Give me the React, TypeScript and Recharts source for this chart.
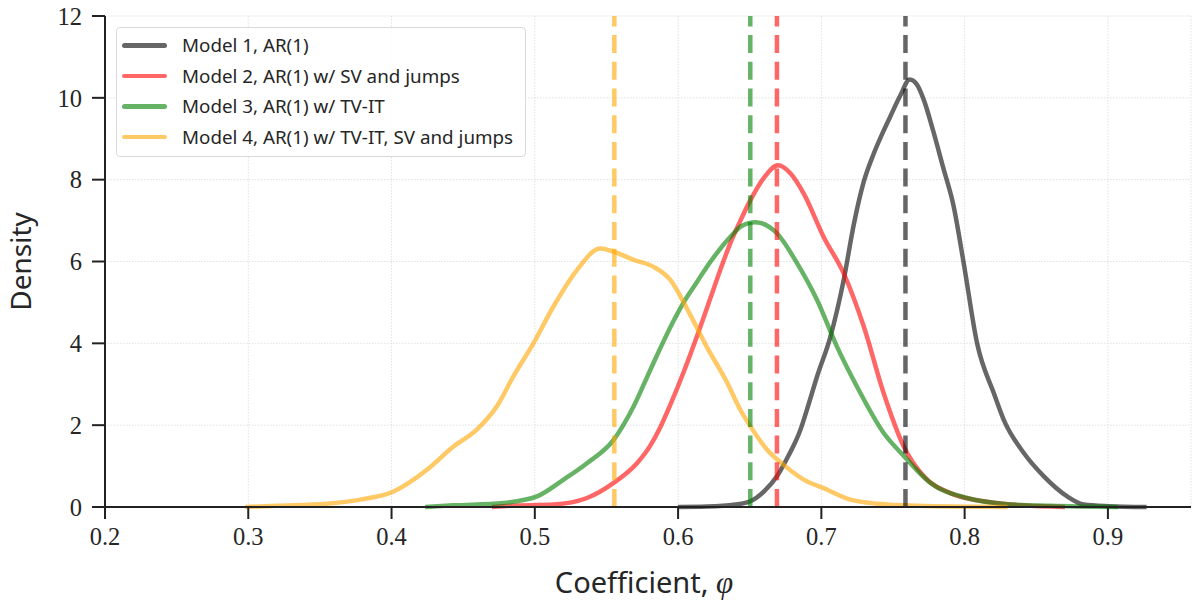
import React from "react";
import { LineChart, Line, XAxis, YAxis, CartesianGrid, ReferenceLine, Legend } from "recharts";

// Kernel density estimates (x = coefficient φ, y = density)
const model1X = [0.6, 0.62, 0.64, 0.6505, 0.66, 0.669, 0.677, 0.6854, 0.691, 0.697, 0.7063, 0.7156, 0.7226, 0.7296, 0.7366, 0.7435, 0.7482, 0.755, 0.7617, 0.7668, 0.7715, 0.778, 0.785, 0.7924, 0.7994, 0.8087, 0.8204, 0.8273, 0.8413, 0.8553, 0.8716, 0.8832, 0.9, 0.927];
const model1Y = [0, 0.01, 0.06, 0.14, 0.38, 0.75, 1.25, 1.89, 2.5, 3.19, 4.16, 5.55, 6.9, 7.95, 8.64, 9.2, 9.55, 10.05, 10.45, 10.32, 9.95, 9.2, 8.3, 7.34, 5.95, 4.0, 2.78, 2.13, 1.32, 0.75, 0.26, 0.06, 0.02, 0];

const model2X = [0.47, 0.4828, 0.513, 0.5364, 0.555, 0.5713, 0.5806, 0.5876, 0.5946, 0.6039, 0.6155, 0.6225, 0.6295, 0.6365, 0.6435, 0.6505, 0.66, 0.6697, 0.6785, 0.6877, 0.7016, 0.7156, 0.7296, 0.7435, 0.7575, 0.7715, 0.79, 0.8134, 0.84, 0.87];
const model2Y = [0, 0.03, 0.06, 0.22, 0.59, 1.07, 1.5, 1.95, 2.5, 3.3, 4.4, 5.1, 5.8, 6.45, 7.0, 7.5, 8.05, 8.35, 8.15, 7.66, 6.6, 5.71, 4.41, 2.78, 1.48, 0.75, 0.34, 0.14, 0.04, 0];

const model3X = [0.4235, 0.4432, 0.4782, 0.5015, 0.5201, 0.5364, 0.555, 0.569, 0.5806, 0.5969, 0.6039, 0.6132, 0.6178, 0.6388, 0.6435, 0.6539, 0.669, 0.683, 0.697, 0.7109, 0.7249, 0.7435, 0.7575, 0.7761, 0.8018, 0.83, 0.86, 0.907];
const model3Y = [0, 0.04, 0.1, 0.26, 0.67, 1.07, 1.64, 2.46, 3.35, 4.55, 5.0, 5.5, 5.75, 6.69, 6.85, 6.96, 6.69, 5.96, 5.06, 3.92, 2.94, 1.81, 1.25, 0.59, 0.22, 0.07, 0.03, 0];

const model4X = [0.2978, 0.32, 0.3548, 0.378, 0.4014, 0.4247, 0.4432, 0.4595, 0.4735, 0.485, 0.499, 0.513, 0.5294, 0.5457, 0.555, 0.569, 0.5829, 0.5946, 0.6062, 0.6202, 0.6341, 0.6435, 0.6505, 0.6621, 0.6737, 0.6877, 0.7016, 0.7203, 0.7389, 0.7668, 0.83];
const model4Y = [0, 0.03, 0.08, 0.18, 0.38, 0.91, 1.48, 1.89, 2.46, 3.19, 4.0, 4.9, 5.79, 6.32, 6.24, 6.04, 5.87, 5.55, 4.85, 3.9, 3.05, 2.37, 1.97, 1.4, 1.03, 0.67, 0.46, 0.18, 0.08, 0.03, 0];

// Posterior means (dashed vertical lines)
const meanValues = [0.7587, 0.669, 0.6504, 0.5555];

const seriesNames = [
  "Model 1, AR(1)",
  "Model 2, AR(1) w/ SV and jumps",
  "Model 3, AR(1) w/ TV-IT",
  "Model 4, AR(1) w/ TV-IT, SV and jumps",
];
const seriesColors = ["#000000", "#ff0000", "#008000", "#ffa500"];
const legendColors = ["#666666", "#ff6666", "#66b366", "#ffc966"];

const xTicks = [0.2, 0.3, 0.4, 0.5, 0.6, 0.7, 0.8, 0.9];
const yTicks = [0, 2, 4, 6, 8, 10, 12];

const toPoints = (xs: number[], ys: number[]) => xs.map((x, i) => ({ x, y: ys[i] }));
const seriesData = [
  toPoints(model1X, model1Y),
  toPoints(model2X, model2Y),
  toPoints(model3X, model3Y),
  toPoints(model4X, model4Y),
];

const sans = "'Noto Sans', 'DejaVu Sans', sans-serif";
const serif = "'Liberation Serif', 'DejaVu Serif', serif";

const LegendBox = () => (
  <div
    style={{
      border: "1.3px solid #dadada",
      borderRadius: 4,
      background: "rgba(255,255,255,0.85)",
      width: 410,
      height: 130,
      boxSizing: "border-box",
      paddingTop: 2,
    }}
  >
    {seriesNames.map((n, i) => (
      <div key={n} style={{ display: "flex", alignItems: "center", height: 30.6 }}>
        <div
          style={{
            marginLeft: 5,
            width: 45,
            height: 4.5,
            borderRadius: 2.5,
            background: legendColors[i],
          }}
        />
        <span
          style={{
            marginLeft: 15,
            fontFamily: sans,
            fontSize: 18.8,
            color: "#262626",
            whiteSpace: "nowrap",
          }}
        >
          {n}
        </span>
      </div>
    ))}
  </div>
);

export default function App() {
  return (
    <div style={{ position: "absolute", left: 0, top: 0, width: 1195, height: 603, background: "#fff" }}>
      <LineChart width={1195} height={603} margin={{ top: 16, right: 4, bottom: 36, left: 25 }}>
        <CartesianGrid stroke="#dedede" strokeDasharray="1.5 1.5" strokeWidth={0.9} />
        <XAxis
          dataKey="x"
          type="number"
          domain={[0.2, 0.958]}
          ticks={xTicks}
          allowDataOverflow
          height={60}
          tickSize={12}
          tickMargin={9}
          stroke="#222"
          strokeWidth={2}
          tick={{ fontFamily: serif, fontSize: 24.5, fill: "#262626" }}
          tickFormatter={(v: number) => v.toFixed(1)}
          label={{
            content: (props: any) => {
              const vb = props.viewBox;
              return (
                <text
                  x={vb.x + vb.width / 2 - 4}
                  y={vb.y + 86}
                  textAnchor="middle"
                  fontFamily={sans}
                  fontSize={29}
                  fill="#262626"
                >
                  Coefficient,{" "}
                  <tspan fontFamily={serif} fontStyle="italic" fontSize={31}>
                    φ
                  </tspan>
                </text>
              );
            },
          }}
        />
        <YAxis
          type="number"
          domain={[0, 12]}
          ticks={yTicks}
          width={80}
          tickSize={13}
          tickMargin={10}
          stroke="#222"
          strokeWidth={2}
          tick={{ fontFamily: serif, fontSize: 24.5, fill: "#262626" }}
          label={{
            content: (props: any) => {
              const vb = props.viewBox;
              const cx = vb.x - 5;
              const cy = vb.y + vb.height / 2;
              return (
                <text
                  x={cx}
                  y={cy}
                  transform={`rotate(-90, ${cx}, ${cy})`}
                  textAnchor="middle"
                  dominantBaseline="central"
                  fontFamily={sans}
                  fontSize={28}
                  fill="#262626"
                >
                  Density
                </text>
              );
            },
          }}
        />
        {seriesData.map((d, i) => (
          <Line
            key={seriesNames[i]}
            data={d}
            dataKey="y"
            name={seriesNames[i]}
            type="monotone"
            stroke={seriesColors[i]}
            strokeOpacity={0.6}
            strokeWidth={4.5}
            dot={false}
            activeDot={false}
            isAnimationActive={false}
          />
        ))}
        {meanValues.map((m, i) => (
          <ReferenceLine
            key={`mean-${i}`}
            x={m}
            stroke={seriesColors[i]}
            strokeOpacity={0.6}
            strokeWidth={4.5}
            strokeDasharray="18 8.7"
          />
        ))}
        <Legend
          layout="vertical"
          align="center"
          verticalAlign="middle"
          wrapperStyle={{ left: 116, top: 27, width: 410, height: 130 }}
          content={() => <LegendBox />}
        />
      </LineChart>
    </div>
  );
}
